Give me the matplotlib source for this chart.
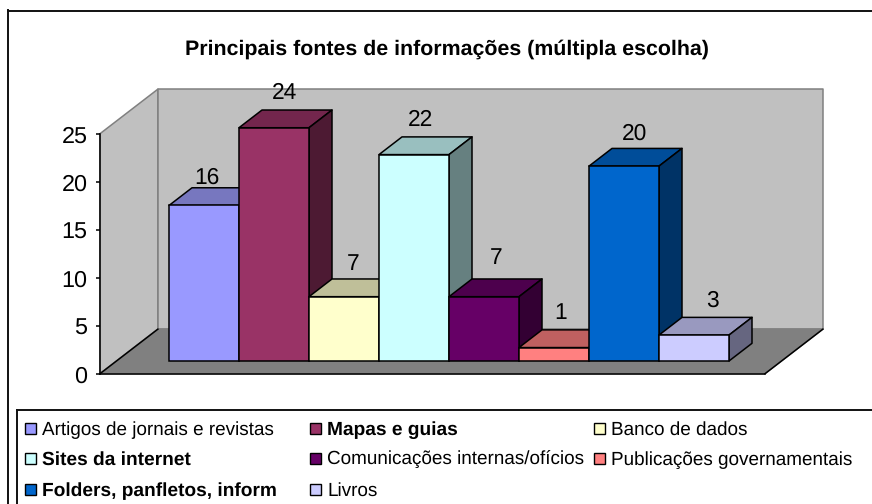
import matplotlib
matplotlib.use('Agg')
import matplotlib.pyplot as plt
from matplotlib.lines import Line2D
from matplotlib.patches import Polygon, Rectangle

plt.rcParams['font.family'] = ['Liberation Sans', 'DejaVu Sans']
plt.rcParams['text.hinting'] = 'no_hinting'

W, H = 872, 504

# data
categories = ['Artigos de jornais e revistas', 'Mapas e guias', 'Banco de dados',
              'Sites da internet', 'Comunicações internas/ofícios',
              'Publicações governamentais', 'Folders, panfletos, inform', 'Livros']
heights = [16.2, 24.3, 6.7, 21.5, 6.7, 1.4, 20.3, 2.7]  # as drawn
value_labels = ['16', '24', '7', '22', '7', '1', '20', '3']
bold_names = ['Mapas e guias', 'Sites da internet', 'Folders, panfletos, inform']
y_ticks = [0, 5, 10, 15, 20, 25]

colors = ['#9999FF', '#993366', '#FFFFCC', '#CCFFFF', '#660066', '#FF8080', '#0066CC', '#CCCCFF']
tops = ['#7777BF', '#73264D', '#BFBF99', '#99BFBF', '#4D004D', '#BF6060', '#004D99', '#9999BF']
sides = ['#4D4D80', '#4D1A33', '#808066', '#668080', '#330033', '#804040', '#003366', '#666680']

# pixels per unit of the plot
PX_X, PX_Y = 70.0, 9.6
X0, Y0 = 169.0, 361.0  # pixel of x=0, y=0 at the front of the bars
BAR_DX, BAR_DY = 23.0 / PX_X, 17.7 / PX_Y  # shift for one bar depth
D_FRONT, D_BACK = -0.72, 1.8
X_MIN, X_MAX = -0.75, 8.75

fig = plt.figure(figsize=(W / 100, H / 100), dpi=100)
ax = fig.add_axes([0, 0, 1, 1])
ax.set_xlim(-X0 / PX_X, (W - X0) / PX_X)
ax.set_ylim((Y0 - H) / PX_Y, Y0 / PX_Y)
ax.axis('off')


def proj(x, y, d):
    return (x + d * BAR_DX, y + d * BAR_DY)


def face(pts, fc, ec='black', lw=1.1, z=1):
    ax.add_patch(Polygon([proj(*p) for p in pts], closed=True, fc=fc, ec=ec, lw=lw, zorder=z,
                         joinstyle='round'))


# walls and floor
top = y_ticks[-1]
face([(X_MIN, 0, D_FRONT), (X_MIN, top, D_FRONT), (X_MIN, top, D_BACK), (X_MIN, 0, D_BACK)],
     '#C0C0C0', '#808080', 1.1)
face([(X_MIN, 0, D_BACK), (X_MIN, top, D_BACK), (X_MAX, top, D_BACK), (X_MAX, 0, D_BACK)],
     '#C0C0C0', '#808080', 1.1)
face([(X_MIN, 0, D_FRONT), (X_MAX, 0, D_FRONT), (X_MAX, 0, D_BACK), (X_MIN, 0, D_BACK)],
     '#808080', '#808080', 1.1)
for a, b in [((X_MIN, 0, D_FRONT), (X_MAX, 0, D_FRONT)),
             ((X_MAX, 0, D_FRONT), (X_MAX, 0, D_BACK)),
             ((X_MIN, 0, D_FRONT), (X_MIN, 0, D_BACK))]:
    pa, pb = proj(*a), proj(*b)
    ax.plot([pa[0], pb[0]], [pa[1], pb[1]], color='black', lw=1.1, zorder=2)

# bars, left to right so the next front hides the previous side
label_dx = [2.5, 11, 9, 7, 12, 7, 11, 18]
label_dy = [10, 17, 15, 17, 21, 17, 15, 17]
for i, h in enumerate(heights):
    z = 3 + i
    face([(i, h, 0), (i + 1, h, 0), (i + 1, h, 1), (i, h, 1)], tops[i], z=z)
    face([(i + 1, 0, 0), (i + 1, h, 0), (i + 1, h, 1), (i + 1, 0, 1)], sides[i], z=z)
    ax.bar(i, h, width=1, align='edge', color=colors[i], edgecolor='black', linewidth=1.1,
           zorder=z + 0.5)
    ax.annotate(value_labels[i], xy=(i + 0.5, proj(0, h, 1)[1]), xytext=(label_dx[i], label_dy[i]),
                textcoords='offset pixels', ha='center', va='center', fontsize=16.4,
                color='black', zorder=20)

# value axis sits on the front edge of the left wall
ax_y = fig.add_axes([100 / W, 1 - 374 / H, 0.001, 240 / H], facecolor='none')
ax_y.set_ylim(0, 25)
ax_y.set_yticks(y_ticks)
ax_y.set_xticks([])
for s in ['top', 'right', 'bottom']:
    ax_y.spines[s].set_visible(False)
ax_y.spines['left'].set_linewidth(1.1)
ax_y.tick_params(axis='y', length=3, width=1.1, pad=6, labelsize=16.8)

# title
fig.text(447 / W, 1 - 49 / H, 'Principais fontes de informações (múltipla escolha)',
         ha='center', va='center', fontsize=15.4, fontweight='bold')


def hline(x0, x1, y, lw=1.4, color='#111111'):
    fig.add_artist(Line2D([x0 / W, x1 / W], [1 - y / H, 1 - y / H], color=color, lw=lw))


def vline(x, y0, y1, lw=1.4, color='#111111'):
    fig.add_artist(Line2D([x / W, x / W], [1 - y0 / H, 1 - y1 / H], color=color, lw=lw))


# outer frame and legend box, both run off the image
hline(8, W, 10.5)
vline(8, 10, H)
hline(17, W, 410)
vline(17, 410, H)

# legend
col_x = [25, 310, 594]
row_y = [428, 458, 489]
for i, name in enumerate(categories):
    cx, cy = col_x[i % 3], row_y[i // 3]
    fig.add_artist(Rectangle((cx / W, 1 - (cy + 5.5) / H), 11 / W, 11 / H, fc=colors[i], ec='black',
                             lw=1.0, transform=fig.transFigure))
    bold = name in bold_names
    fig.text((cx + 17) / W, 1 - cy / H, name, ha='left', va='center_baseline',
             fontsize=13.75 if bold else 13.55, fontweight='bold' if bold else 'normal')

fig.savefig('out.png', dpi=100)
